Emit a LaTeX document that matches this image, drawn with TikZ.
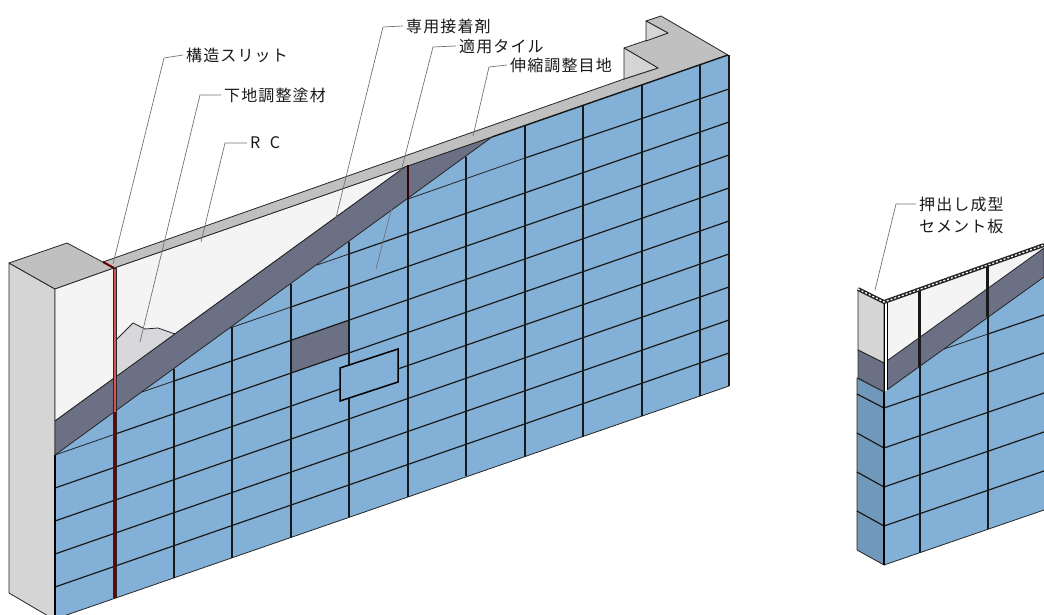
\documentclass[tikz,border=0pt]{standalone}
\usepackage{fontspec}
\setmainfont[LetterSpace=7]{Noto Sans CJK JP}
\usepackage{xcolor}
\definecolor{tile}{RGB}{131,176,214}
\definecolor{tileside}{RGB}{112,152,187}
\definecolor{mortar}{RGB}{107,112,133}
\definecolor{slab}{RGB}{192,192,192}
\definecolor{sideface}{RGB}{213,213,213}
\definecolor{rcface}{RGB}{244,244,244}
\definecolor{undercoat}{RGB}{216,216,220}
\definecolor{slit}{RGB}{214,84,84}
\tikzset{
  % face styles
  face/.style={draw=black!85,line width=0.8pt,line join=round},
  % tile line styles
  joint/.style={draw=black!90,line width=1.2pt},
  thinjoint/.style={draw=black!85,line width=0.8pt},
  heavyjoint/.style={draw=black!90,line width=2.2pt},
  % label styles
  callout/.style={anchor=west,inner xsep=3pt,inner ysep=0pt,font=\fontsize{16}{19}\selectfont,text=black!90},
  leader/.style={draw=black!55,line width=0.7pt},
}
\begin{document}
\begin{tikzpicture}[x=1pt,y=-1pt]
        \useasboundingbox (0,0) rectangle (1044,615);
        \clip (0,0) rectangle (1044,615);
        % Main wall: pillar and coping
        \draw[face,fill=sideface] (9,263)--(55,289)--(55,620)--(9,593)--cycle;
        \draw[face,fill=slab] (9,263)--(67,243)--(114,268)--(55,289)--cycle;
        \draw[face,fill=rcface] (55,289)--(114,268)--(405,167)--(55,421)--cycle;
        \draw[face,fill=slab] (103,262)--(624,79)--(658,68)--(624,48)--(668,33)--(646,21)--(661,16)--(728,55)--(492,137)--(114,268)--cycle;
        \draw[face,fill=sideface] (624,79)--(624,48)--(658,68)--cycle;
        \draw[face,fill=sideface] (646,21)--(668,33)--(646,41)--cycle;
        \draw[face,fill=undercoat] (116,340)--(133,323)--(145,329)--(158,328)--(175,334)--(116,377)--cycle;
        % Tiles and adhesive band
        \fill[tile] (55,455)--(492,137)--(728,55)--(729,386)--(55,619)--cycle;
        \draw[face,fill=mortar] (55,421)--(405,167)--(492,137)--(55,455)--cycle;
        \draw[face] (55,619)--(729,386);
        \draw[line width=1.4pt,black!90] (492,137)--(728,55);
        \fill[mortar] (291,340)--(349,320)--(349,353)--(291,373)--cycle;
        % Tile joints
        \foreach \ya/\yb in {587/353,554/320,521/287,488/254}
            \draw[joint] (55,\ya)--(729,\yb);
        \draw[thinjoint] (55,455)--(114,434.5);
        \draw[joint] (114,434.5)--(729,221);
        \draw[thinjoint] (142,392)--(174,381);
        \draw[joint] (174,381)--(729,188);
        \draw[thinjoint] (230,328)--(291,307);
        \draw[joint] (291,307)--(729,155);
        \draw[thinjoint] (317,265)--(349,254);
        \draw[joint] (349,254)--(729,122);
        \draw[thinjoint] (408,199)--(525,158);
        \draw[joint] (525,158)--(729,89);
        \foreach \xa/\ya/\yb in {174/369/578,232/327/558,291/284/538,349/242/517,466/157/476,525/125/457,583/105/437,642/85/416,700/65/396}
            \draw[joint] (\xa,\ya)--(\xa,\yb);
        \draw[heavyjoint] (408,199)--(408,497);
        \draw[draw=black!80!red,line width=1.4pt] (408,165)--(408,199);
        \draw[heavyjoint] (729,55)--(729,386);
        \draw[line width=1.4pt,black] (55,455)--(55,619);
        % Structural slit
        \draw[line width=3.6pt,black!85] (115,268)--(115,598);
        \draw[line width=1.8pt,slit] (115,269)--(115,412);
        \draw[line width=1.2pt,black!55!red] (115,412)--(115,598);
        \draw[line width=2pt,black!60!red] (103,262)--(114,268);
        % Block-out in the wall
        \draw[line width=1.5pt,black,fill=tile] (340,368)--(398,349)--(398,382)--(340,401)--cycle;
        % Detail wall: left face
        \fill[tile] (884,392)--(1044,277)--(1044,510)--(884,565)--cycle;
        \draw[face,fill=sideface] (858,289)--(884,302)--(884,363)--(858,350)--cycle;
        \draw[face,fill=mortar] (858,350)--(884,363)--(884,392)--(858,378)--cycle;
        \draw[face,fill=tileside] (857,378)--(884,392)--(884,565)--(857,550)--cycle;
        \foreach \ya/\yb in {394/408,433/448,472/487,511/526}
            \draw[joint] (857,\ya)--(884,\yb);
        % Detail wall: front face
        \fill[rcface] (887,302)--(1044,245)--(1044,248)--(887,361)--cycle;
        \draw[face,fill=mortar] (884,392)--(884,363)--(1044,248)--(1044,277)--cycle;
        \fill[white] (884.5,303)--(887.5,302)--(887.5,390)--(884.5,392)--cycle;
        \draw[face] (884,565)--(1044,510);
        \draw[thinjoint] (944,349)--(988,334);
        \draw[joint] (988,334)--(1044,315);
        \foreach \ya/\yb in {408/353,448/393,487/432,526/471}
            \draw[joint] (884,\ya)--(1044,\yb);
        \draw[joint] (920,367)--(920,553);
        \draw[joint] (988,317)--(988,529);
        \draw[heavyjoint] (919.5,289)--(919.5,367);
        \draw[heavyjoint] (987.5,265)--(987.5,317);
        \draw[line width=2.8pt,black] (884,392)--(884,565);
        \draw[line width=0.9pt,black] (884,302)--(884,392);
        \draw[line width=0.9pt,black] (887.5,303)--(887.5,390);
        % Detail wall: hollow section along the top
        \draw[line width=4pt,black!85] (858,289)--(884,302)--(1044,245);
        \draw[line width=1.2pt,white,dash pattern=on 2pt off 2pt] (858,289)--(884,302)--(1044,245);
        % Labels
        \node(lblSlit)[callout] at(183,55){構造スリット};
        \node(lblCoat)[callout] at(221,95){下地調整塗材};
        \node(lblRC)[callout] at(247,143){R\ \ C};
        \node(lblGlue)[callout] at(403,26){専用接着剤};
        \node(lblTile)[callout] at(456,46){適用タイル};
        \node(lblJoint)[callout] at(507,65){伸縮調整目地};
        \node(lblBoardA)[callout] at(916,204){押出し成型};
        \node(lblBoardB)[callout] at(916,226){セメント板};
        % Leader lines
        \coordinate(endSlit) at(113,264);
        \coordinate(endCoat) at(140,342);
        \coordinate(endRC) at(201,242);
        \coordinate(endGlue) at(328,250);
        \coordinate(endTile) at(376,269);
        \coordinate(endJoint) at(473,136);
        \coordinate(endBoard) at(875,290);
        \draw[leader] (lblSlit.west)--(164,58)--(endSlit);
        \draw[leader] (lblCoat.west)--(200,95)--(endCoat);
        \draw[leader] (lblRC.west)--(225,143)--(endRC);
        \draw[leader] (lblGlue.west)--(383,27)--(endGlue);
        \draw[leader] (lblTile.west)--(433,47)--(endTile);
        \draw[leader] (lblJoint.west)--(489,67)--(endJoint);
        \draw[leader] (lblBoardA.west)--(896,204)--(endBoard);
\end{tikzpicture}
\end{document}
